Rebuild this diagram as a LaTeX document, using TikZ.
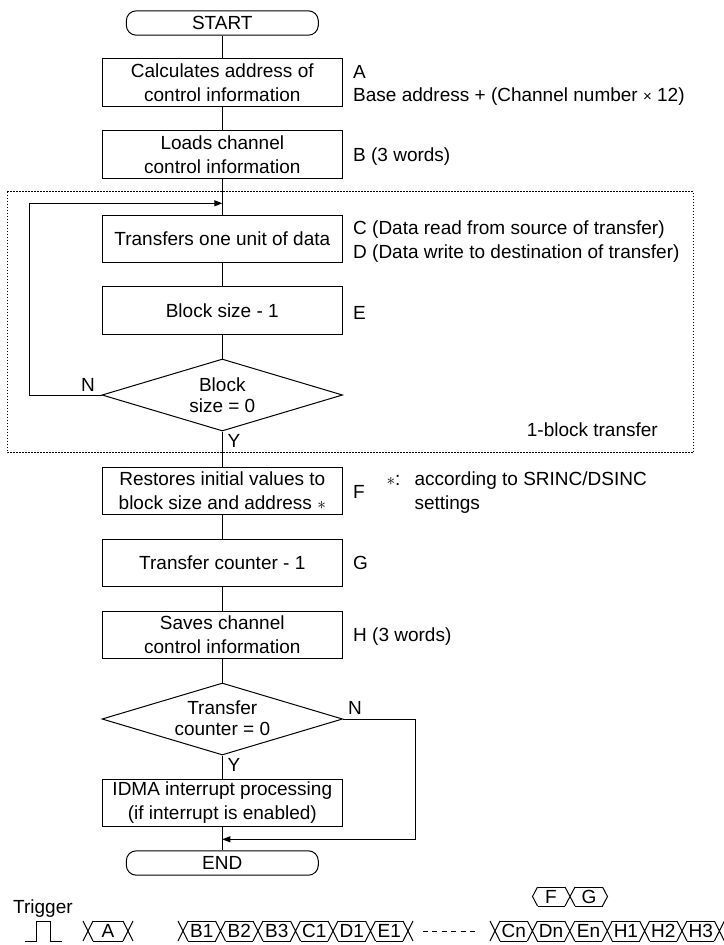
\documentclass[tikz,border=0pt]{standalone}
\usepackage{fontspec}
\setmainfont{Liberation Sans}
\usetikzlibrary{shapes.geometric,arrows.meta}
\begin{document}
\begin{tikzpicture}[x=1pt,y=-1pt, font=\fontsize{19}{24}\selectfont, line width=1pt,
  proc/.style={draw, minimum width=240.6pt, minimum height=47.7pt, align=center, inner sep=0pt},
  term/.style={draw, rounded corners=10pt, minimum width=192pt, minimum height=24.4pt, inner sep=0pt},
  dec/.style={draw, diamond, minimum width=240.6pt, minimum height=72pt, inner sep=0pt, aspect=3.3},
  dtext/.style={align=center, inner sep=0pt, font=\fontsize{19}{21}\selectfont},
  lbl/.style={anchor=west, inner sep=0pt, text height=13.7pt, text depth=0pt},
  yn/.style={inner sep=0pt, text height=13.7pt, text depth=0pt},
  cell/.style={inner sep=0pt, text height=13.7pt, text depth=0pt},
  tip/.style={-{Triangle[length=8pt,width=6pt]}},
  grp/.style={line width=0.8pt, dash pattern=on 1.5pt off 1.5pt}]
\useasboundingbox (0,0) rectangle (723,945);

% dotted group
\draw[grp] (7.3,191.5) rectangle (693.3,452.8);

% flow nodes
\node[term] (start) at (222.3,23) {START};
\node[proc] (A) at (222.3,82.5) {Calculates address of\\control information};
\node[proc] (B) at (222.3,154.5) {Loads channel\\control information};
\node[proc] (C) at (222.3,239) {Transfers one unit of data};
\node[proc] (E) at (222.3,310.5) {Block size - 1};
\node[dec] (d1) at (222.3,395) {};
\node[dtext] (d1t) at (222.3,395) {Block\\size = 0};
\node[proc] (F) at (222.3,491) {Restores initial values to\\block size and address $\ast$};
\node[proc] (G) at (222.3,563) {Transfer counter - 1};
\node[proc] (H) at (222.3,635) {Saves channel\\control information};
\node[dec] (d2) at (222.3,719) {};
\node[dtext] (d2t) at (222.3,718.5) {Transfer\\counter = 0};
\node[proc] (I) at (222.3,803) {IDMA interrupt processing\\(if interrupt is enabled)};
\node[term] (end) at (222.3,863) {END};

\coordinate (j1) at (222.3,203.3);
\coordinate (lp) at (29.3,203.3);
\coordinate (j2) at (222.3,839.3);
\coordinate (rp) at (415,839.3);

\draw (start) -- (A);
\draw (A) -- (B);
\draw (B) -- (C);
\draw (C) -- (E);
\draw (E) -- (d1);
\draw (d1) -- (F);
\draw (F) -- (G);
\draw (G) -- (H);
\draw (H) -- (d2);
\draw (d2) -- (I);
\draw (I) -- (end);
\draw[tip] (d1.west) -| (lp) -- (j1);
\draw[tip] (d2.east) -| (rp) -- (j2);

\node[yn] (n1) at (88,385) {N};
\node[yn] (y1) at (234,441) {Y};
\node[yn] (n2) at (355,708) {N};
\node[yn] (y2) at (234,765) {Y};

% right labels
\node[lbl] (la) at (352.7,71.7) {A};
\node[lbl] (lbase) at (352.7,95) {Base address + (Channel number {\fontsize{15}{15}\selectfont\raisebox{0.5pt}{×}} 12)};
\node[lbl] (lb) at (352.7,155) {B (3 words)};
\node[lbl] (lc) at (352.7,227.7) {C (Data read from source of transfer)};
\node[lbl] (ld) at (352.7,251.7) {D (Data write to destination of transfer)};
\node[lbl] (le) at (352.7,312.7) {E};
\node[lbl, anchor=east] (blk) at (658.3,429.3) {1-block transfer};
\node[lbl] (lf) at (352.7,492) {F};
\node[lbl] (star) at (386,478.3) {$\ast$:};
\node[lbl] (acc) at (414,478.3) {according to SRINC/DSINC};
\node[lbl] (set) at (414,502.3) {settings};
\node[lbl] (lg) at (352.7,563) {G};
\node[lbl] (lh) at (352.7,635) {H (3 words)};

% timing row
\node[lbl] (trig) at (12.7,907) {Trigger};
\draw (25,941) -- (36,941) -- (36,921) -- (50,921) -- (50,941) -- (62,941);

% A cell
\foreach \b in {88,128} {
  \draw (\b-5,921) -- (\b+5,941) (\b-5,941) -- (\b+5,921);
}
\draw (93,921) -- (123,921) (93,941) -- (123,941);
\node[cell] (ca) at (108,931) {A};

% left chain
\foreach \k in {0,...,6} {
  \pgfmathsetmacro\xa{183+37.5*\k}
  \draw (\xa-5,921) -- (\xa+5,941) (\xa-5,941) -- (\xa+5,921);
}
\foreach \t [count=\k from 0] in {B1,B2,B3,C1,D1,E1} {
  \pgfmathsetmacro\xa{183+37.5*\k}
  \pgfmathsetmacro\xb{\xa+37.5}
  \draw (\xa+5,921) -- (\xb-5,921) (\xa+5,941) -- (\xb-5,941);
  \node[cell] (c\t) at ({(\xa+\xb)/2},931) {\t};
}

\draw[dash pattern=on 5pt off 4.4pt] (423,931) -- (475,931);

% right chain
\foreach \k in {0,...,6} {
  \pgfmathsetmacro\xa{495+37.4*\k}
  \draw (\xa-5,921) -- (\xa+5,941) (\xa-5,941) -- (\xa+5,921);
}
\foreach \t [count=\k from 0] in {Cn,Dn,En,H1,H2,H3} {
  \pgfmathsetmacro\xa{495+37.4*\k}
  \pgfmathsetmacro\xb{\xa+37.4}
  \draw (\xa+5,921) -- (\xb-5,921) (\xa+5,941) -- (\xb-5,941);
  \node[cell] (c\t) at ({(\xa+\xb)/2},931) {\t};
}

% F G cells
\draw (537.5,887) -- (532.5,896.5) -- (537.5,906);
\draw (537.5,887) -- (565,887) (537.5,906) -- (565,906);
\draw (565,887) -- (575,906) (565,906) -- (575,887);
\draw (575,887) -- (602.5,887) (575,906) -- (602.5,906);
\draw (602.5,887) -- (607.5,896.5) -- (602.5,906);
\node[cell] (cf) at (551,896.5) {F};
\node[cell] (cg) at (589,896.5) {G};
\end{tikzpicture}
\end{document}
